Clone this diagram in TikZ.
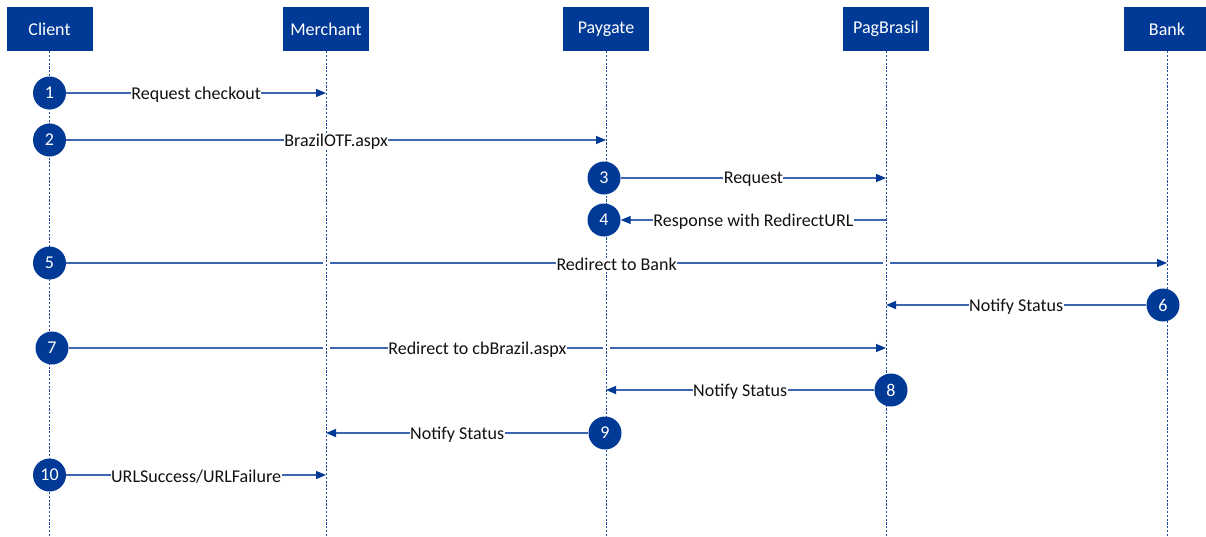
\documentclass[tikz,border=0pt]{standalone}
\usepackage{fontspec}
\setmainfont{Carlito}
\usetikzlibrary{arrows.meta,calc}
\definecolor{hdr}{HTML}{003A96}
\definecolor{msg}{HTML}{3D65B2}
\definecolor{life}{HTML}{1F4AA0}
\definecolor{txt}{HTML}{111111}
\pgfdeclarelayer{bg}
\pgfdeclarelayer{mid}
\pgfsetlayers{bg,mid,main}
\begin{document}
\begin{tikzpicture}[x=1pt,y=-1pt,
  hdrbox/.style={fill=hdr, text=white, minimum width=86pt, minimum height=44pt, inner sep=0pt, font=\fontsize{18}{20}\selectfont},
  stepnum/.style={circle, fill=hdr, text=white, minimum size=33pt, inner sep=0pt, font=\fontsize{18}{20}\selectfont},
  lifeline/.style={life, line width=0.9pt, dash pattern=on 2.2pt off 1.6pt},
  msgline/.style={msg, line width=1.2pt, -{Triangle[length=10pt,width=8pt,color=hdr]}},
  msglabel/.style={fill=white, text=txt, inner sep=0.5pt, yshift=-1.5pt, font=\fontsize{18}{20}\selectfont},
  gapmark/.style={fill=white, draw=none}]
\useasboundingbox (0,0) rectangle (1206,536);
% headers
\node[hdrbox] (client) at (49.5,29) {\raisebox{-1pt}{Client}};
\node[hdrbox] (merchant) at (326,29) {\raisebox{-1pt}{Merchant}};
\node[hdrbox] (paygate) at (606,29) {\raisebox{-1pt}{Paygate}};
\node[hdrbox] (pagbrasil) at (886,29) {\raisebox{-1pt}{PagBrasil}};
\node[hdrbox] (bank) at (1167,29) {\raisebox{-1pt}{Bank}};
\coordinate (clientend) at (49.5,536);
\coordinate (merchantend) at (326,536);
\coordinate (paygateend) at (606,536);
\coordinate (pagbrasilend) at (886,536);
\coordinate (bankend) at (1167,536);
% step circles
\node[stepnum] (c1) at (49.5,93) {1};
\node[stepnum] (c2) at (49.5,140) {2};
\node[stepnum] (c3) at (604,178) {3};
\node[stepnum] (c4) at (604,220) {4};
\node[stepnum] (c5) at (49.5,263) {5};
\node[stepnum] (c6) at (1163,305) {6};
\node[stepnum] (c7) at (52,348) {7};
\node[stepnum] (c8) at (891,390) {8};
\node[stepnum] (c9) at (605,433) {9};
\node[stepnum] (c10) at (49.5,475) {10};
% messages
\begin{pgfonlayer}{bg}
\draw[msgline] (c1) -- (c1 -| merchant);
\draw[msgline] (c2) -- (c2 -| paygate);
\draw[msgline] (c3) -- (c3 -| pagbrasil);
\draw[msgline] (c4 -| pagbrasil) -- (c4);
\draw[msgline] (c5) -- (c5 -| bank);
\draw[msgline] (c6) -- (c6 -| pagbrasil);
\draw[msgline] (c7) -- (c7 -| pagbrasil);
\draw[msgline] (c8) -- (c8 -| paygate);
\draw[msgline] (c9) -- (c9 -| merchant);
\draw[msgline] (c10) -- (c10 -| merchant);
% gaps where messages cross lifelines
\fill[gapmark] ($(c5 -| merchant)+(-3.5,-3)$) rectangle ++(7,6);
\fill[gapmark] ($(c5 -| pagbrasil)+(-3.5,-3)$) rectangle ++(7,6);
\fill[gapmark] ($(c7 -| merchant)+(-3.5,-3)$) rectangle ++(7,6);
\fill[gapmark] ($(c7 -| paygate)+(-3.5,-3)$) rectangle ++(7,6);
\end{pgfonlayer}
% lifelines
\begin{pgfonlayer}{mid}
\draw[lifeline] (client.south) -- (clientend);
\draw[lifeline] (merchant.south) -- (merchantend);
\draw[lifeline] (paygate.south) -- (paygateend);
\draw[lifeline] (pagbrasil.south) -- (pagbrasilend);
\draw[lifeline] (bank.south) -- (bankend);
\end{pgfonlayer}
% labels
\path (c1.east) -- (c1 -| merchant) node[midway, msglabel] (l1) {Request checkout};
\path (c2.east) -- (c2 -| paygate) node[midway, msglabel] (l2) {BrazilOTF.aspx};
\path (c3.east) -- (c3 -| pagbrasil) node[midway, msglabel] (l3) {Request};
\path (c4 -| pagbrasil) -- (c4.east) node[midway, msglabel] (l4) {Response with RedirectURL};
\path (c5.east) -- (c5 -| bank) node[midway, msglabel] (l5) {Redirect to Bank};
\path (c6.west) -- (c6 -| pagbrasil) node[midway, msglabel] (l6) {Notify Status};
\path (c7.east) -- (c7 -| pagbrasil) node[midway, msglabel] (l7) {Redirect to cbBrazil.aspx};
\path (c8.west) -- (c8 -| paygate) node[midway, msglabel] (l8) {Notify Status};
\path (c9.west) -- (c9 -| merchant) node[midway, msglabel] (l9) {Notify Status};
\path (c10.east) -- (c10 -| merchant) node[midway, msglabel] (l10) {URLSuccess/URLFailure};
\end{tikzpicture}
\end{document}
